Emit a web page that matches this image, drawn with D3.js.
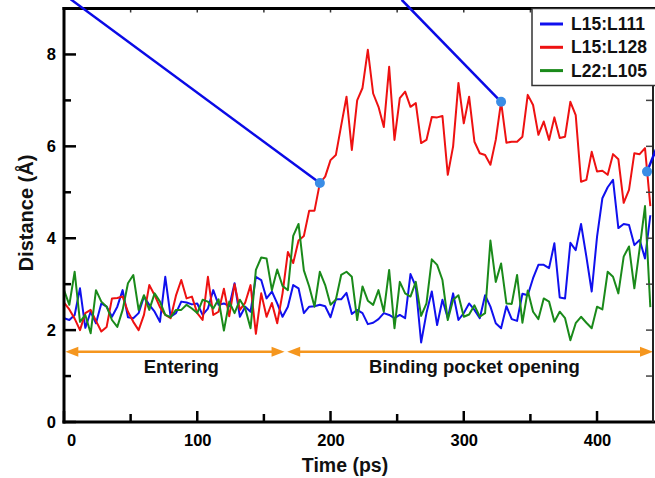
<!DOCTYPE html>
<html><head><meta charset="utf-8">
<script src="https://cdn.jsdelivr.net/npm/d3@7"></script>
<style>
html,body{margin:0;padding:0;background:#fff;}
svg{display:block;font-family:"Liberation Sans",Arial,sans-serif;font-weight:bold;}
</style></head>
<body>
<svg id="chart" width="655" height="478"></svg>
<script>
// ---- data ----
const seriesNames = ["L15:L111", "L15:L128", "L22:L105"];
const seriesColors = ["#1010ee", "#ee1111", "#1a8a1a"];
const timeStep = 4;
const times = d3.range(0, 441, timeStep);
const blueValues = [
  2.26,2.22,2.33,2.91,2.05,2.4,2.15,2.58,2.51,2.29,
  2.51,2.87,2.28,2.26,2.37,2.73,2.55,2.4,2.18,3.16,
  2.29,2.37,2.62,2.6,2.56,2.58,2.33,2.47,2.87,2.55,
  2.58,2.52,3.02,2.29,2.51,2.4,3.16,3.09,2.69,2.84,
  2.58,2.29,2.51,2.98,2.91,2.37,2.51,2.52,2.55,2.52,
  2.28,2.67,2.67,2.81,2.35,2.44,2.37,2.13,2.16,2.24,
  2.37,2.33,2.26,2.33,2.26,3.22,2.95,1.73,2.37,2.84,
  2.11,2.66,2.26,2.8,2.22,2.37,2.58,2.44,2.26,2.76,
  2.51,2.15,2.04,2.52,2.24,2.2,2.79,2.76,3.13,3.42,
  3.42,3.35,3.89,2.71,2.69,3.9,3.74,4.31,3.6,2.84,
  4.03,4.87,5.11,5.27,4.22,4.31,4.29,3.85,3.96,3.56,
  4.5];
const redValues = [
  2.6,2.45,2.25,2.0,2.37,2.44,2.2,1.97,2.07,2.69,
  2.7,2.73,2.4,2.18,2.0,2.33,2.98,2.76,2.5,2.33,
  2.26,2.75,3.09,2.69,2.73,2.37,2.22,3.16,2.33,2.4,
  2.9,2.3,3.0,2.44,2.6,2.98,1.92,2.8,2.29,2.59,
  2.15,2.8,3.7,3.46,3.95,4.05,4.6,4.6,5.2,5.34,
  5.7,5.81,6.45,7.08,5.92,7.0,7.27,8.1,7.15,6.86,
  6.42,7.73,6.14,7.05,7.19,6.86,6.94,6.07,6.14,6.64,
  6.63,6.66,5.38,6.0,7.38,6.5,7.08,6.1,5.85,5.81,
  5.6,6.14,6.97,6.08,6.1,6.1,6.21,7.12,6.9,6.25,
  6.54,6.14,6.63,6.18,6.21,6.97,6.68,5.23,5.27,5.88,
  5.45,5.47,5.38,5.83,5.72,4.77,5.05,5.85,5.83,5.96,
  4.7];
const greenValues = [
  2.87,2.55,3.27,2.18,2.33,1.93,2.87,2.62,2.51,2.22,
  2.07,2.44,3.02,3.2,2.44,2.76,2.44,2.8,2.62,2.33,
  2.28,2.44,2.44,2.55,2.47,2.37,2.66,2.62,2.47,2.67,
  1.99,2.62,2.37,2.66,2.47,2.04,3.31,3.58,3.56,2.87,
  3.32,2.96,2.87,4.05,4.31,3.3,2.95,2.51,3.27,2.98,
  2.55,2.66,3.2,3.27,3.16,2.22,2.95,2.64,2.55,2.87,
  2.4,3.31,2.04,3.05,2.8,2.73,3.05,2.31,2.58,3.54,
  3.42,3.09,2.22,2.66,2.76,2.29,2.34,2.54,2.29,2.37,
  3.95,3.05,3.45,2.58,2.57,3.2,2.16,2.86,2.4,2.24,
  2.69,2.62,2.18,2.4,2.26,1.78,2.15,2.29,2.16,2.04,
  2.51,2.45,3.27,3.16,2.8,3.6,3.82,2.91,3.78,4.7,
  2.5];
const xTicks = [0, 100, 200, 300, 400];
const xMinorTicks = [50, 150, 250, 350];
const yTicks = [0, 2, 4, 6, 8];
const yMinorTicks = [1, 3, 5, 7];
// phase arrows: [start time, end time, level, label]
const phaseStarts = [1, 167.5];
const phaseEnds = [165.5, 442];
const phaseLevel = 1.53;
const phaseLabels = ["Entering", "Binding pocket opening"];
const phaseLabelTimes = [88, 308];
// callouts: marked point and line start (off the top)
const calloutTimes = [192, 328, 437.5];
const calloutValues = [5.2, 6.97, 5.45];
const calloutFromTimes = [5, 253.4, 448];
const calloutFromValues = [9.2, 9.19, 6.2];

// ---- layout ----
const svg = d3.select("#chart");
const X0 = 64, X1 = 653, Y0 = 422, Y1 = 8.5;
const x = d3.scaleLinear().domain([0, 442]).range([X0, X1]);
const y = d3.scaleLinear().domain([0, 9]).range([Y0, Y1]);

svg.append("defs").append("clipPath").attr("id", "clip")
  .append("rect").attr("x", X0).attr("y", Y1).attr("width", X1 - X0).attr("height", Y0 - Y1);

// data lines
const line = d3.line().x((d, i) => x(times[i])).y(d => y(d));
const allSeries = [blueValues, redValues, greenValues];
const g = svg.append("g").attr("clip-path", "url(#clip)");
allSeries.forEach((vals, k) => {
  g.append("path").datum(vals).attr("d", line)
    .attr("fill", "none").attr("stroke", seriesColors[k])
    .attr("stroke-width", 2).attr("stroke-linejoin", "round");
});

// phase arrows
const orange = "#f5961e";
phaseStarts.forEach((s, i) => {
  const xa = x(s), xb = x(phaseEnds[i]), yy = y(phaseLevel);
  svg.append("line").attr("x1", xa + 6).attr("x2", xb - 6).attr("y1", yy).attr("y2", yy)
    .attr("stroke", orange).attr("stroke-width", 2.5);
  svg.append("path").attr("d", `M${xa},${yy}L${xa + 13},${yy - 5}L${xa + 13},${yy + 5}Z`).attr("fill", orange);
  svg.append("path").attr("d", `M${xb},${yy}L${xb - 13},${yy - 5}L${xb - 13},${yy + 5}Z`).attr("fill", orange);
  svg.append("text").attr("x", x(phaseLabelTimes[i])).attr("y", y(phaseLevel) + 21)
    .attr("text-anchor", "middle").attr("font-size", 18.5).attr("fill", "#111").text(phaseLabels[i]);
});

// axes
const axG = svg.append("g");
const xAxis = d3.axisBottom(x).tickValues(xTicks).tickSize(0).tickPadding(12).tickFormat(d3.format("d"));
const xa = axG.append("g").attr("transform", `translate(0,${Y0})`).call(xAxis);
xa.select(".domain").remove();
xa.selectAll("text").attr("font-size", 16.5).attr("font-family", "Liberation Sans, Arial, sans-serif")
  .attr("font-weight", "bold").attr("fill", "#000").attr("dx", d => d === 0 ? 7 : 0);
const yAxis = d3.axisLeft(y).tickValues(yTicks).tickSize(0).tickPadding(8).tickFormat(d3.format("d"));
const ya = axG.append("g").attr("transform", `translate(${X0},0)`).call(yAxis);
ya.select(".domain").remove();
ya.selectAll("text").attr("font-size", 16.5).attr("font-family", "Liberation Sans, Arial, sans-serif")
  .attr("font-weight", "bold").attr("fill", "#000");

// inward ticks
xTicks.forEach(t => axG.append("line").attr("x1", x(t)).attr("x2", x(t)).attr("y1", Y0).attr("y2", Y0 - 11).attr("stroke", "#000").attr("stroke-width", 2.5));
xMinorTicks.forEach(t => axG.append("line").attr("x1", x(t)).attr("x2", x(t)).attr("y1", Y0).attr("y2", Y0 - 8).attr("stroke", "#000").attr("stroke-width", 2.5));
xTicks.concat(xMinorTicks).forEach(t => axG.append("line").attr("x1", x(t)).attr("x2", x(t)).attr("y1", Y1).attr("y2", Y1 + 4).attr("stroke", "#333").attr("stroke-width", 1.5));
yTicks.forEach(v => axG.append("line").attr("x1", X0).attr("x2", X0 + 12).attr("y1", y(v)).attr("y2", y(v)).attr("stroke", "#000").attr("stroke-width", 2.5));
yMinorTicks.forEach(v => axG.append("line").attr("x1", X0).attr("x2", X0 + 7).attr("y1", y(v)).attr("y2", y(v)).attr("stroke", "#000").attr("stroke-width", 2.5));
yTicks.concat(yMinorTicks).forEach(v => axG.append("line").attr("x1", X1).attr("x2", X1 - 7).attr("y1", y(v)).attr("y2", y(v)).attr("stroke", "#444").attr("stroke-width", 1.5));

// frame
axG.append("line").attr("x1", X0).attr("x2", X0).attr("y1", Y1 - 1.5).attr("y2", Y0 + 1.5).attr("stroke", "#000").attr("stroke-width", 3);
axG.append("line").attr("x1", X0 - 1.5).attr("x2", X1 + 2).attr("y1", Y0).attr("y2", Y0).attr("stroke", "#000").attr("stroke-width", 3);
axG.append("line").attr("x1", X0 - 1.5).attr("x2", X1 + 2).attr("y1", Y1).attr("y2", Y1).attr("stroke", "#000").attr("stroke-width", 3);
axG.append("line").attr("x1", X1).attr("x2", X1).attr("y1", Y1).attr("y2", Y0).attr("stroke", "#222").attr("stroke-width", 2);

// axis titles
svg.append("text").attr("x", 345).attr("y", 472).attr("text-anchor", "middle")
  .attr("font-size", 19.5).attr("fill", "#111").text("Time (ps)");
svg.append("text").attr("transform", "translate(33,213) rotate(-90)").attr("text-anchor", "middle")
  .attr("font-size", 20).attr("fill", "#111").text("Distance (Å)");

// callouts
calloutTimes.forEach((t, i) => {
  svg.append("line").attr("x1", x(calloutFromTimes[i])).attr("y1", y(calloutFromValues[i]))
    .attr("x2", x(t)).attr("y2", y(calloutValues[i]))
    .attr("stroke", "#0a0ae6").attr("stroke-width", 2.5);
});
calloutTimes.forEach((t, i) => {
  svg.append("circle").attr("cx", x(t)).attr("cy", y(calloutValues[i])).attr("r", 5).attr("fill", "#3a8de6");
});

// legend
const lg = svg.append("g");
lg.append("rect").attr("x", 532).attr("y", Y1).attr("width", 124).attr("height", 77)
  .attr("fill", "#fff").attr("stroke", "#333").attr("stroke-width", 1.5);
seriesNames.forEach((n, i) => {
  const yy = 24 + i * 23.3;
  lg.append("line").attr("x1", 540).attr("x2", 563).attr("y1", yy).attr("y2", yy)
    .attr("stroke", seriesColors[i]).attr("stroke-width", 3);
  lg.append("text").attr("x", 571).attr("y", yy + 6).attr("font-size", 17.5).attr("fill", "#111").text(n);
});
</script>
</body></html>
